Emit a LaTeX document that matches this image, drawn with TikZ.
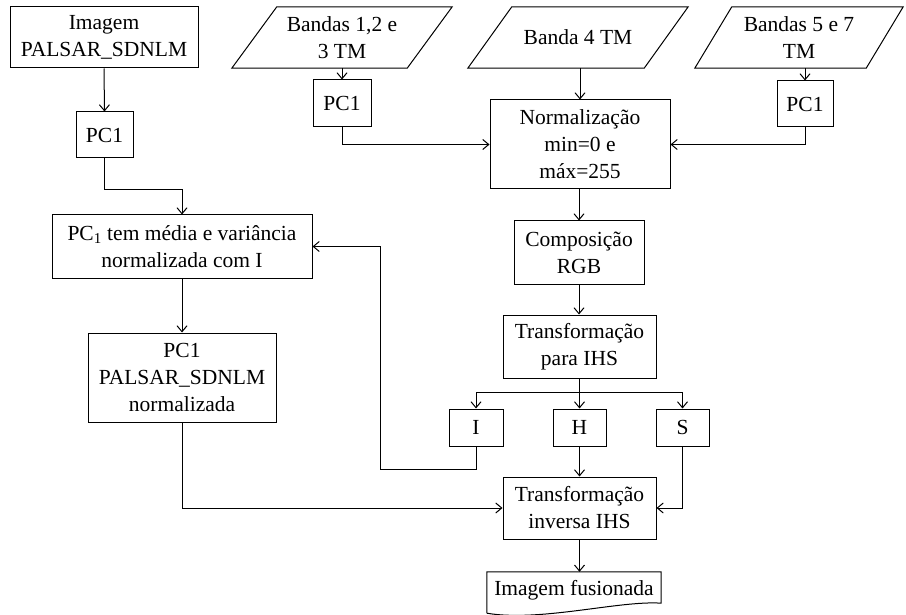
\documentclass[tikz,border=0pt]{standalone}
\usepackage{fontspec}
\setmainfont{Liberation Serif}
\usetikzlibrary{arrows.meta,calc}

% parallelogram outline around a named node: #1 node, #2 horizontal slant
\newcommand\slantbox[2]{%
  \draw[line width=1pt] (#1.south west) -- ($(#1.north west)+(#2,0)$) -- (#1.north east)
    -- ($(#1.south east)+(-#2,0)$) -- cycle;}

\begin{document}
\begin{tikzpicture}[x=1pt,y=-1pt,
  every node/.style={font=\fontsize{21.5}{27}\selectfont, align=center, inner sep=0pt},
  procbox/.style={draw, line width=1pt, minimum width=#1},
  iobox/.style={minimum width=#1, minimum height=61pt},
  arr/.style={line width=1pt, -{Straight Barb[length=6pt,width=10pt]}},
  ln/.style={line width=1pt}]
\useasboundingbox (0,0) rectangle (906,615);

% left column
\node[procbox=188pt, minimum height=61pt] (img) at (104,37.5) {Imagem\\PALSAR\_SDNLM};
\node[procbox=57pt, minimum height=46pt] (pcA) at (104.5,135) {PC1};
\node[procbox=260pt, minimum height=63pt] (pcmed) at (182,246.5)
  {PC\textsubscript{1} tem média e variância\\normalizada com I};
\node[procbox=188pt, minimum height=89pt] (pcn) at (182,377.5) {PC1\\PALSAR\_SDNLM\\normalizada};

% input bands
\node[iobox=220pt] (b123) at (342,37.5) {Bandas 1,2 e\\3 TM};
\slantbox{b123}{45}
\node[iobox=220pt] (b4) at (578,37.5) {Banda 4 TM};
\slantbox{b4}{44}
\node[iobox=208pt] (b57) at (799,37.5) {Bandas 5 e 7\\TM};
\slantbox{b57}{37}

\node[procbox=58pt, minimum height=47pt] (pcB) at (342,103.5) {PC1};
\node[procbox=56pt, minimum height=46pt] (pcC) at (805,104) {PC1};

% right column
\node[procbox=180pt, minimum height=89pt] (norm) at (580,144.5) {Normalização\\min=0 e\\máx=255};
\node[procbox=130pt, minimum height=63pt] (comp) at (579,252.5) {Composição\\RGB};
\node[procbox=153pt, minimum height=63pt] (tihs) at (579.5,346.5) {Transformação\\para IHS};
\node[procbox=54pt, minimum height=37pt] (I) at (476,427.5) {I};
\node[procbox=53pt, minimum height=37pt] (H) at (579.5,427.5) {H};
\node[procbox=53pt, minimum height=37pt] (S) at (682.5,427.5) {S};
\node[procbox=153pt, minimum height=62pt] (inv) at (579.5,508) {Transformação\\inversa IHS};

% output document with wavy bottom edge
\node[minimum width=174pt, minimum height=36pt] (doc) at (574,590) {Imagem fusionada};
\draw[ln] ($(doc.south west)+(0,5)$) -- (doc.north west) -- (doc.north east)
  -- ($(doc.south east)+(0,-5)$)
  .. controls ($(doc.south)+(46,-8)$) and ($(doc.south)+(-34,14)$) .. ($(doc.south west)+(0,5)$);

% connectors
\coordinate (split) at (579.5,392);
\coordinate (bendI) at (380,469);

\draw[arr] (img.south) -- (pcA.north);
\draw[arr] (pcA.south) -- ++(0,31) -| (pcmed.north);
\draw[arr] (pcmed.south) -- (pcn.north);

\draw[arr] (pcB.north |- b123.south) -- (pcB.north);
\draw[arr] (pcB.south) |- (norm.west);
\draw[arr] (norm.north |- b4.south) -- (norm.north);
\draw[arr] (pcC.north |- b57.south) -- (pcC.north);
\draw[arr] (pcC.south) |- (norm.east);

\draw[arr] (comp.north |- norm.south) -- (comp.north);
\draw[arr] (comp.south) -- (comp.south |- tihs.north);
\draw[ln] (tihs.south) -- (split);
\draw[arr] (split) -| (I.north);
\draw[arr] (split) -| (S.north);
\draw[arr] (split) -- (H.north);

\draw[arr] (I.south) |- (bendI) |- (pcmed.east);
\draw[arr] (pcn.south) |- (inv.west);
\draw[arr] (H.south) -- (inv.north);
\draw[arr] (S.south) |- (inv.east);
\draw[arr] (inv.south) -- (inv.south |- doc.north);
\end{tikzpicture}
\end{document}
